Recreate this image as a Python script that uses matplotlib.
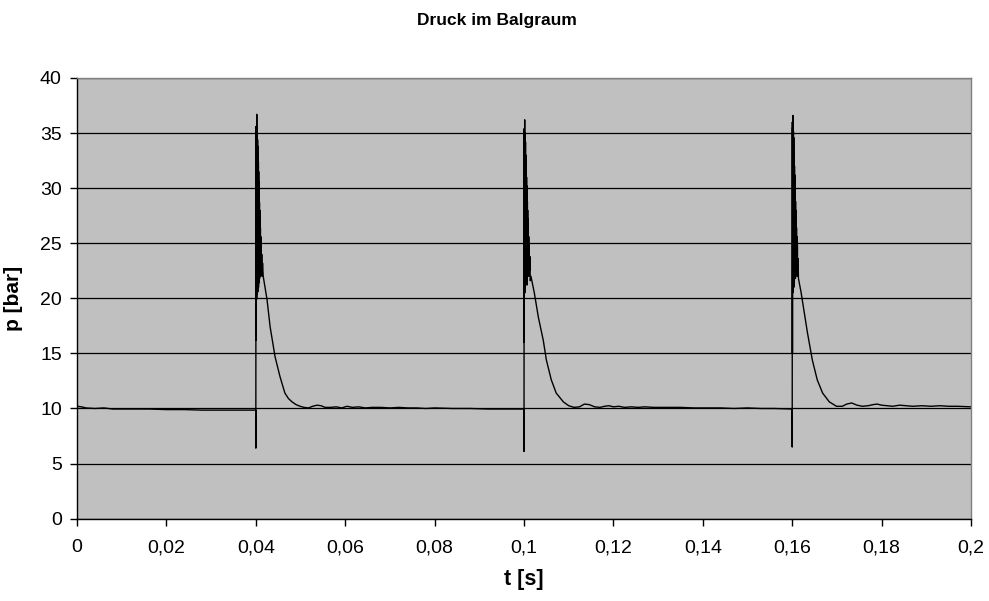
import numpy as np
import matplotlib
matplotlib.use("Agg")
from matplotlib import pyplot as plt

# Druckverlauf im Balgraum, drei Schaltvorgaenge
# Grundniveau vor dem ersten Puls
t_start = [0.0, 0.001, 0.002, 0.004, 0.006, 0.008, 0.012, 0.016, 0.020, 0.024,
           0.028, 0.032, 0.036, 0.0398]
p_start = [10.2, 10.15, 10.05, 10.0, 10.05, 9.95, 9.95, 9.95, 9.9, 9.9,
           9.85, 9.85, 9.85, 9.85]

# Puls 1 (t = 0,04 s)
t_puls1 = [0.03999, 0.04000, 0.04003, 0.04006, 0.04009, 0.04012, 0.04015, 0.04018,
           0.04021, 0.04024, 0.04027, 0.04030, 0.04033, 0.04036, 0.04039, 0.04042,
           0.04045, 0.04048, 0.04051, 0.04054, 0.04057, 0.04060, 0.04063, 0.04066,
           0.04069, 0.04072, 0.04075, 0.04078, 0.04081, 0.04084, 0.04087, 0.04090,
           0.04094, 0.04098, 0.04102, 0.04106, 0.04110, 0.04115, 0.04120, 0.04126,
           0.04132, 0.04140, 0.04150, 0.04165,
           0.0425, 0.0432, 0.0443, 0.0454, 0.0465, 0.0473, 0.0481, 0.0490, 0.0499,
           0.0508, 0.0518, 0.0527, 0.0537, 0.0546, 0.0555, 0.0567, 0.0580, 0.0592,
           0.0604, 0.0616, 0.0630, 0.0645, 0.0660, 0.0680, 0.0700, 0.0720, 0.0740,
           0.0760, 0.0780, 0.0800, 0.0840, 0.0880, 0.0920, 0.0960, 0.0998]
p_puls1 = [9.85, 6.4, 35.6, 16.2, 35.2, 20.0, 34.6, 19.9, 36.7, 21.2,
           35.5, 20.4, 35.0, 20.8, 34.4, 21.5, 33.8, 20.6, 33.0, 22.0,
           32.4, 21.0, 31.5, 22.5, 30.6, 21.4, 29.5, 22.0, 28.7, 21.8,
           28.0, 22.6, 27.2, 22.0, 26.4, 22.8, 25.6, 22.2, 24.8, 22.6,
           24.0, 22.0, 23.2, 22.0,
           19.9, 17.4, 14.7, 12.9, 11.4, 10.9, 10.6, 10.35, 10.2,
           10.1, 10.05, 10.2, 10.3, 10.25, 10.1, 10.1, 10.15, 10.05,
           10.2, 10.1, 10.15, 10.05, 10.1, 10.1, 10.05, 10.1, 10.05,
           10.05, 10.0, 10.05, 10.0, 10.0, 9.95, 9.95, 9.95]

# Puls 2 (t = 0,1 s)
t_puls2 = [0.09999, 0.10000, 0.10003, 0.10006, 0.10009, 0.10012, 0.10015, 0.10018,
           0.10021, 0.10024, 0.10027, 0.10030, 0.10033, 0.10036, 0.10039, 0.10042,
           0.10045, 0.10048, 0.10051, 0.10054, 0.10057, 0.10060, 0.10063, 0.10066,
           0.10069, 0.10072, 0.10075, 0.10078, 0.10081, 0.10084, 0.10088, 0.10092,
           0.10096, 0.10100, 0.10105, 0.10110, 0.10116, 0.10122, 0.10130, 0.10140,
           0.10155,
           0.1023, 0.1032, 0.1043, 0.1050, 0.1061, 0.1072, 0.1088, 0.1100, 0.1112,
           0.1124, 0.1135, 0.1146, 0.1158, 0.1170, 0.1180, 0.1190, 0.1200, 0.1212,
           0.1225, 0.1240, 0.1255, 0.1270, 0.1290, 0.1310, 0.1330, 0.1350, 0.1380,
           0.1410, 0.1440, 0.1470, 0.1500, 0.1530, 0.1560, 0.1598]
p_puls2 = [9.95, 6.1, 35.4, 16.0, 33.5, 21.0, 36.2, 20.5, 34.5, 22.0,
           35.0, 21.5, 34.2, 22.4, 33.0, 21.8, 32.5, 23.0, 31.6, 22.0,
           31.0, 22.5, 30.2, 21.2, 29.5, 23.5, 28.8, 22.0, 28.0, 23.0,
           27.2, 22.4, 26.4, 22.8, 25.6, 22.0, 24.8, 22.5, 23.8, 21.6,
           22.0,
           20.5, 18.3, 16.2, 14.4, 12.6, 11.4, 10.6, 10.25, 10.1,
           10.15, 10.4, 10.35, 10.15, 10.1, 10.2, 10.25, 10.15, 10.2,
           10.1, 10.15, 10.1, 10.15, 10.1, 10.1, 10.1, 10.1, 10.05,
           10.05, 10.05, 10.0, 10.05, 10.0, 10.0, 9.95]

# Puls 3 (t = 0,16 s)
t_puls3 = [0.15999, 0.16000, 0.16003, 0.16006, 0.16009, 0.16012, 0.16015, 0.16018,
           0.16021, 0.16024, 0.16027, 0.16030, 0.16033, 0.16036, 0.16039, 0.16042,
           0.16045, 0.16048, 0.16051, 0.16054, 0.16057, 0.16060, 0.16063, 0.16066,
           0.16069, 0.16072, 0.16075, 0.16078, 0.16081, 0.16084, 0.16088, 0.16092,
           0.16096, 0.16100, 0.16105, 0.16110, 0.16116, 0.16122, 0.16130, 0.16140,
           0.1620, 0.1627, 0.1634, 0.1645, 0.1656, 0.1668, 0.1683, 0.1699, 0.1712,
           0.1722, 0.1733, 0.1745, 0.1757, 0.1770, 0.1781, 0.1790, 0.1800, 0.1812,
           0.1825, 0.1840, 0.1855, 0.1870, 0.1890, 0.1910, 0.1930, 0.1950, 0.1970,
           0.2000]
p_puls3 = [9.95, 6.5, 36.0, 15.0, 35.5, 20.5, 36.6, 21.0, 34.0, 20.8,
           35.2, 22.0, 34.6, 21.0, 33.6, 22.5, 32.8, 21.5, 32.0, 23.0,
           31.2, 22.0, 30.4, 22.8, 29.6, 21.8, 28.8, 22.5, 28.0, 23.0,
           27.2, 22.2, 26.4, 22.8, 25.6, 22.0, 24.8, 22.5, 23.6, 21.8,
           20.5, 18.7, 16.9, 14.4, 12.6, 11.4, 10.6, 10.2, 10.2,
           10.4, 10.5, 10.3, 10.2, 10.25, 10.35, 10.4, 10.3, 10.25,
           10.2, 10.3, 10.25, 10.2, 10.25, 10.2, 10.25, 10.2, 10.2,
           10.15]

t = np.concatenate([t_start, t_puls1, t_puls2, t_puls3])
p = np.concatenate([p_start, p_puls1, p_puls2, p_puls3])

plt.rcParams['font.family'] = ['Liberation Sans', 'DejaVu Sans']

fig = plt.figure(figsize=(9.89, 6.01), dpi=100)
ax = fig.add_axes([0.0779, 0.1370, 0.9039, 0.7333])
ax.set_facecolor('#c0c0c0')

ax.plot(t, p, color='black', linewidth=1.0)

ax.set_xlim(0, 0.2)
ax.set_ylim(0, 40)
ax.set_xticks(np.arange(0, 0.2001, 0.02))
ax.set_xticklabels(['0', '0,02', '0,04', '0,06', '0,08', '0,1', '0,12', '0,14',
                    '0,16', '0,18', '0,2'])
ax.set_yticks(np.arange(0, 41, 5))

# horizontale Gitterlinien
ax.yaxis.grid(True, color='black', linewidth=0.9)
ax.set_axisbelow(True)

for side in ['left', 'bottom']:
    ax.spines[side].set_color('black')
    ax.spines[side].set_linewidth(1.0)
for side in ['top', 'right']:
    ax.spines[side].set_color('#808080')
    ax.spines[side].set_linewidth(1.0)

ax.tick_params(direction='out', length=5, width=1, labelsize=14, pad=6)
ax.tick_params(axis='x', pad=10)

ax.set_xlabel('t [s]', fontsize=15.5, fontweight='bold', labelpad=9)
ax.set_ylabel('p [bar]', fontsize=15, fontweight='bold', labelpad=12)
fig.text(0.502, 0.966, 'Druck im Balgraum', ha='center', va='center',
         fontsize=12.5, fontweight='bold')

plt.savefig('out.png', dpi=100)
